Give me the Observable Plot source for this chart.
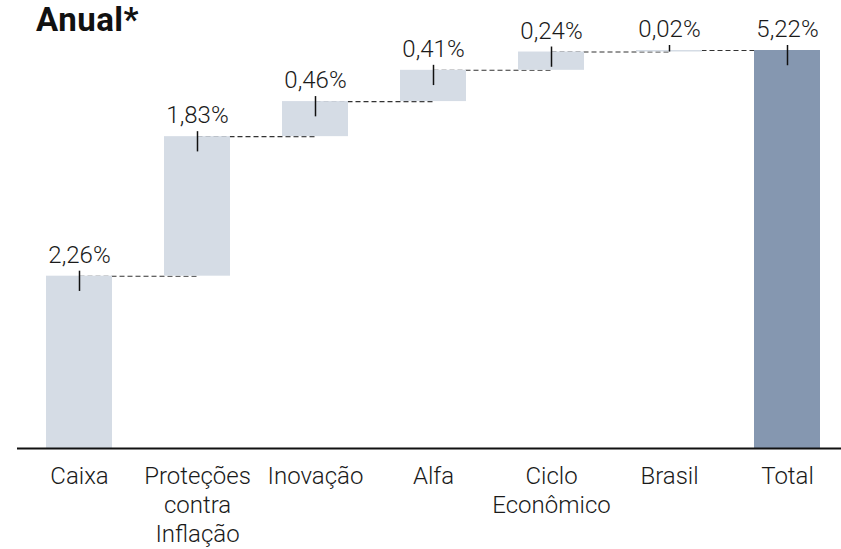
<!DOCTYPE html>
<html>
<head>
<meta charset="utf-8">
<script src="https://cdn.jsdelivr.net/npm/d3@7"></script>
<script src="https://cdn.jsdelivr.net/npm/@observablehq/plot@0.6"></script>
<style>
  html, body { margin: 0; padding: 0; background: #fff; }
  #wrap { position: relative; width: 841px; height: 549px; font-family: Roboto, "Noto Sans", sans-serif; }
  #title { position: absolute; left: 36px; top: 0px; font-size: 33px; line-height: normal; font-weight: 700; color: #111; margin: 0; letter-spacing: 0.5px; }
  #chart { position: absolute; left: 0; top: 0; }
</style>
</head>
<body>
<div id="wrap">
  <div id="chart"></div>
  <h2 id="title">Anual*</h2>
</div>
<script>
const categories = ["Caixa", "Proteções\ncontra\nInflação", "Inovação", "Alfa", "Ciclo\nEconômico", "Brasil", "Total"];
const values = [2.26, 1.83, 0.46, 0.41, 0.24, 0.02, 5.22];
const isTotal = [false, false, false, false, false, false, true];

let run = 0;
const rows = categories.map((c, i) => {
  let start, end;
  if (isTotal[i]) { start = 0; end = values[i]; }
  else { start = run; end = run + values[i]; run = end; }
  return { cat: c, start, end, value: values[i], total: isTotal[i],
           label: values[i].toFixed(2).replace(".", ",") + "%" };
});
const links = rows.slice(0, -1).map((r, i) => ({ a: r.cat, b: rows[i + 1].cat, y: r.end }));

const chart = Plot.plot({
  width: 841,
  height: 549,
  marginTop: 50,
  marginBottom: 101,
  marginLeft: 43,
  marginRight: 18,
  style: { fontFamily: "Roboto, 'Noto Sans', sans-serif", color: "#1a1a1a", background: "#fff" },
  x: { domain: categories, paddingInner: 0.44, paddingOuter: 0, label: null },
  y: { domain: [0, 5.22], axis: null },
  marks: [
    Plot.link(links, { x1: "a", x2: "b", y1: "y", y2: "y", stroke: "#333", strokeWidth: 1.1, strokeDasharray: "5,3" }),
    Plot.barY(rows, { x: "cat", y1: "start", y2: "end", fill: d => d.total ? "#8597b0" : "#d5dce5" }),
    Plot.ruleX(rows, { x: "cat", y1: "end", y2: d => Math.max(d.start, d.end - 0.2), stroke: "#111", strokeWidth: 1.5, insetTop: -5 }),
    Plot.text(rows, { x: "cat", y: "end", text: "label", dy: -21, fontSize: 24, fontWeight: 300, fill: "#1a1a1a" }),
    Plot.ruleY([0], { stroke: "#111", strokeWidth: 2, insetLeft: -26, insetRight: -18 }),
    Plot.axisX({ tickSize: 0, tickPadding: 15, fontSize: 24, fontWeight: 300, lineHeight: 1.2, label: null, fill: "#1a1a1a" })
  ]
});
document.getElementById("chart").appendChild(chart);
</script>
</body>
</html>
